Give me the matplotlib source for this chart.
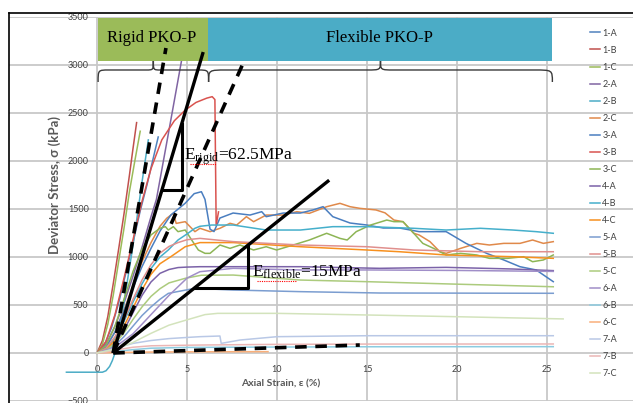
import matplotlib.pyplot as plt
from matplotlib.lines import Line2D
from matplotlib.patches import PathPatch, Rectangle
from matplotlib.path import Path

# ------------------------------------------------------------
# data (axial strain %, deviator stress kPa)
# ------------------------------------------------------------
strain_1A = [0, 0.4, 0.8, 1.2, 1.6, 2.0, 2.4, 2.8, 3.1, 3.4]
stress_1A = [0, 80, 260, 520, 830, 1150, 1480, 1770, 2010, 2250]

strain_1B = [0, 0.3, 0.6, 0.9, 1.2, 1.5, 1.8, 2.0, 2.2]
stress_1B = [0, 130, 380, 720, 1080, 1450, 1850, 2130, 2400]

strain_1C = [0, 0.3, 0.6, 0.9, 1.2, 1.5, 1.8, 2.1, 2.4]
stress_1C = [0, 90, 300, 600, 950, 1300, 1680, 2000, 2310]

strain_2A = [0, 0.5, 1.0, 1.5, 2.0, 2.5, 3.0, 3.3, 3.96, 4.7, 4.9]
stress_2A = [0, 90, 280, 520, 800, 1100, 1420, 1600, 2280, 3050, 3300]

strain_2B = [-1.7, 0.3, 0.5, 0.7, 0.85, 1.0, 1.3, 1.6, 1.9, 2.2, 2.5, 2.85]
stress_2B = [-200, -200, -185, -140, -80, 0, 300, 650, 1000, 1380, 1780, 2220]

strain_2C = [0, 0.5, 1.0, 1.5, 2.0, 2.5, 3.0, 3.5, 3.87, 4.24,
             4.4, 4.9, 5.44, 5.72, 6.28, 6.83, 7.39, 7.76, 8.3, 8.7,
             9.4, 10.35, 11.1, 11.8, 12.76, 13.5, 14.06, 14.6, 15.5, 16.0,
             16.5, 17.0, 17.6, 17.9, 18.5, 19.05, 19.4, 20.2, 21.1, 21.8,
             22.6, 23.5, 24.2, 24.8, 25.35]
stress_2C = [0, 60, 220, 450, 700, 950, 1150, 1320, 1403, 1455,
             1350, 1368, 1264, 1299, 1264, 1299, 1351, 1333, 1420, 1368,
             1437, 1437, 1472, 1455, 1524, 1559, 1524, 1507, 1490, 1460,
             1385, 1368, 1247, 1229, 1160, 1055, 1038, 1090, 1142, 1125,
             1142, 1142, 1177, 1142, 1160]

strain_3A = [0, 0.5, 1.0, 1.5, 2.0, 2.5, 3.0, 3.5, 4.1, 4.9,
             5.4, 5.8, 6.0, 6.28, 6.5, 6.83, 7.56, 8.5, 9.15, 9.4,
             10.35, 11.3, 12.0, 12.56, 13.1, 14.06, 15.0, 15.9, 16.8, 17.9,
             19.4, 20.5, 21.65, 22.6, 23.5, 24.4, 25.35]
stress_3A = [0, 60, 220, 440, 680, 900, 1090, 1270, 1437, 1560,
             1660, 1680, 1600, 1290, 1265, 1406, 1458, 1437, 1472, 1420,
             1458, 1458, 1490, 1524, 1420, 1354, 1333, 1302, 1302, 1264,
             1264, 1142, 1038, 969, 899, 865, 743]

strain_3B = [0, 0.5, 1.0, 1.5, 2.0, 2.5, 3.0, 3.6, 4.3, 4.9, 5.5, 6.1,
             6.4, 6.55, 6.62, 6.75]
stress_3B = [0, 120, 400, 780, 1180, 1580, 1920, 2220, 2420, 2530, 2610, 2655,
             2670, 2640, 1330, 1470]

strain_3C = [0, 0.5, 1.0, 1.5, 2.0, 2.5, 3.0, 3.5, 3.8, 3.96,
             4.24, 4.5, 4.9, 5.26, 5.63, 6.0, 6.28, 6.83, 7.39, 7.94,
             8.7, 9.4, 9.98, 10.9, 11.8, 12.76, 13.5, 13.9, 14.4, 15.2,
             16.1, 16.5, 17.0, 17.6, 18.1, 18.7, 19.4, 20.2, 21.1, 21.8,
             22.8, 23.7, 24.2, 24.8, 25.35]
stress_3C = [0, 80, 280, 560, 850, 1080, 1230, 1300, 1316, 1281,
             1316, 1264, 1281, 1177, 1073, 1038, 1038, 1125, 1090, 1125,
             1073, 1107, 1073, 1125, 1177, 1247, 1194, 1177, 1264, 1333,
             1385, 1368, 1368, 1247, 1142, 1090, 1021, 1038, 1021, 986,
             986, 1003, 951, 969, 1021]

strain_4A = [0, 0.5, 1, 1.5, 2, 2.5, 3, 3.5, 4, 4.5, 5, 5.72, 11.3, 15.7,
             19.4, 23.1, 25.35]
stress_4A = [0, 30, 110, 240, 420, 600, 740, 830, 870, 890, 895, 899, 899, 882,
             892, 875, 858]

strain_4B = [0, 0.5, 1.0, 1.5, 2.0, 2.5, 3.0, 3.5, 3.96, 4.5, 5.0, 5.44, 5.72,
             6.37, 7.57, 9.4, 11.3, 13.1, 15.0, 17.6, 19.4, 21.3, 23.1, 24.4,
             25.35]
stress_4B = [0, 40, 150, 330, 530, 720, 880, 1000, 1073, 1177, 1240, 1299, 1320,
             1333, 1333, 1281, 1281, 1316, 1316, 1299, 1281, 1299, 1281, 1264,
             1247]

strain_4C = [0, 0.5, 1, 1.5, 2, 2.5, 3, 3.5, 4.1, 4.9, 5.72, 7.57, 11.3, 15.0,
             16.8, 19.4, 23.1, 25.35]
stress_4C = [0, 40, 130, 280, 470, 660, 820, 930, 1003, 1107, 1150, 1150, 1107,
             1073, 1055, 1021, 1003, 986]

strain_5A = [0, 0.5, 1, 1.5, 2, 2.5, 3, 3.5, 3.96, 5.44, 7.57, 11.3, 15.7, 25.35]
stress_5A = [0, 25, 80, 170, 280, 390, 480, 560, 621, 674, 656, 639, 625, 622]

strain_5B = [0, 0.5, 1, 1.5, 2, 2.5, 3, 3.5, 4, 4.5, 5, 5.72, 7.57, 11.3, 15.0,
             17.6, 21.3, 25.35]
stress_5B = [0, 50, 170, 350, 560, 760, 920, 1040, 1110, 1150, 1180, 1194, 1160,
             1125, 1107, 1073, 1055, 1055]

strain_5C = [0, 0.5, 1, 1.5, 2, 2.5, 3, 3.5, 4, 4.9, 5.8, 7.57, 11.3, 15.0,
             19.4, 25.35]
stress_5C = [0, 30, 100, 210, 350, 480, 590, 670, 730, 778, 810, 812, 760, 743,
             720, 690]

strain_6A = [0, 1, 2, 3, 4, 5, 5.72, 7.57, 11.3, 15, 20, 25.35]
stress_6A = [0, 60, 200, 400, 600, 780, 847, 882, 865, 865, 860, 850]

strain_6B = [0, 1, 2, 3, 5, 10, 15, 25.35]
stress_6B = [0, 15, 35, 50, 58, 62, 65, 66]

strain_6C = [0, 1, 3, 5, 7, 9.5]
stress_6C = [0, 5, 10, 12, 13, 14]

strain_7A = [0, 0.5, 1, 2, 3, 4, 5, 5.72, 6.83, 6.9, 7.94, 10, 15, 25.35]
stress_7A = [0, 20, 50, 100, 130, 150, 162, 170, 177, 100, 135, 170, 180, 180]

strain_7B = [0, 0.5, 1, 2, 3, 5.7, 10, 15, 25.35]
stress_7B = [0, 10, 30, 60, 75, 83, 90, 93, 94]

strain_7C = [0, 1, 2, 3, 4, 4.9, 6, 6.7, 10, 15, 20, 25.9]
stress_7C = [0, 40, 110, 205, 290, 340, 400, 413, 413, 396, 378, 355]

series_labels = ["1-A", "1-B", "1-C", "2-A", "2-B", "2-C", "3-A", "3-B", "3-C",
                 "4-A", "4-B", "4-C", "5-A", "5-B", "5-C", "6-A", "6-B", "6-C",
                 "7-A", "7-B", "7-C"]
series_colors = ["#4F81BD", "#C0504D", "#9BBB59", "#8064A2", "#4BACC6", "#E0894A",
                 "#4A7EC0", "#D9534F", "#8DB555", "#7B62A8", "#45AFCB", "#F7901E",
                 "#7B9DD0", "#E08F8D", "#ACCB7D", "#A08EC8", "#8CCBE0", "#F9AF7A",
                 "#B9C8E6", "#EBB6B5", "#D3E3BC"]

# modulus guide lines drawn on the chart
rigid_x, rigid_y = [0.9, 5.9], [0, 3135]
rigid_hi_x, rigid_hi_y = [0.9, 3.83], [0, 3177]
rigid_lo_x, rigid_lo_y = [0.9, 8.2], [0, 3052]
flex_x, flex_y = [0.9, 12.9], [0, 1800]
flex_lo_x, flex_lo_y = [0.9, 14.6], [0, 83]
tri_rigid_x, tri_rigid_y = [3.62, 4.72, 4.72], [1698, 1698, 2388]
tri_flex_x, tri_flex_y = [5.41, 8.39, 8.39], [677, 677, 1124]

# ------------------------------------------------------------
plt.rcParams["font.family"] = ["Lato", "DejaVu Sans"]
plt.rcParams["mathtext.default"] = "regular"
SERIF = ["Liberation Serif", "DejaVu Serif"]

fig = plt.figure(figsize=(6.33, 4.03), dpi=100)
ax = fig.add_axes([9 / 633, 2 / 403, 624 / 633, 384 / 403])
ax.set_xlim(-4.89, 29.78)
ax.set_ylim(-500, 3500)

curves = [
    (strain_1A, stress_1A), (strain_1B, stress_1B), (strain_1C, stress_1C),
    (strain_2A, stress_2A), (strain_2B, stress_2B), (strain_2C, stress_2C),
    (strain_3A, stress_3A), (strain_3B, stress_3B), (strain_3C, stress_3C),
    (strain_4A, stress_4A), (strain_4B, stress_4B), (strain_4C, stress_4C),
    (strain_5A, stress_5A), (strain_5B, stress_5B), (strain_5C, stress_5C),
    (strain_6A, stress_6A), (strain_6B, stress_6B), (strain_6C, stress_6C),
    (strain_7A, stress_7A), (strain_7B, stress_7B), (strain_7C, stress_7C),
]
handles = []
for (xs, ys), lab, col in zip(curves, series_labels, series_colors):
    ln, = ax.plot(xs, ys, color=col, lw=1.1, label=lab, zorder=2,
                  solid_joinstyle="round")
    handles.append(ln)

# axes at zero, Excel style
ax.spines["left"].set_position(("data", 0))
ax.spines["bottom"].set_position(("data", 0))
for sp in ax.spines.values():
    sp.set_color("none")
ax.set_xticks(range(0, 30, 5))
ax.set_yticks(range(-500, 3501, 500))
ax.tick_params(length=0, labelsize=6.5, labelcolor="#404040")
ax.tick_params(axis="y", pad=6)
ax.tick_params(axis="x", pad=9)
ax.grid(True, color="#C8C8C8", lw=1.3)
ax.set_axisbelow(True)

ax.text(-2.33, 1750, "Deviator Stress, σ (kPa)", rotation=90, ha="center",
        va="center", fontsize=9.5, fontweight="bold", color="#595959")
ax.text(10.2, -323, "Axial Strain, ε (%)", ha="center", va="center",
        fontsize=7.5, fontweight="bold", color="#595959")

# group boxes
ax.add_patch(Rectangle((0.07, 3042), 6.1, 448, facecolor="#9BBB59",
                       edgecolor="none", zorder=5))
ax.add_patch(Rectangle((6.17, 3042), 19.09, 448, facecolor="#4BACC6",
                       edgecolor="none", zorder=5))
ax.text(3.06, 3281, "Rigid PKO-P", family=SERIF, fontsize=12, ha="center",
        va="center", zorder=6)
ax.text(15.7, 3281, "Flexible PKO-P", family=SERIF, fontsize=12, ha="center",
        va="center", zorder=6)


def brace(x0, x1, y0, ym, yt, re, rt):
    xm = (x0 + x1) / 2
    verts = [(x0, y0), (x0, ym), (x0, ym), (x0 + re, ym),
             (xm - rt, ym), (xm, ym), (xm, ym), (xm, yt),
             (xm, ym), (xm, ym), (xm + rt, ym),
             (x1 - re, ym), (x1, ym), (x1, ym), (x1, y0)]
    codes = [Path.MOVETO, Path.CURVE4, Path.CURVE4, Path.CURVE4,
             Path.LINETO, Path.CURVE4, Path.CURVE4, Path.CURVE4,
             Path.CURVE4, Path.CURVE4, Path.CURVE4,
             Path.LINETO, Path.CURVE4, Path.CURVE4, Path.CURVE4]
    return PathPatch(Path(verts, codes), facecolor="none", edgecolor="#3A3A3A",
                     lw=1.0, zorder=4)


ax.add_patch(brace(0.06, 6.2, 2823, 2948, 3045, 0.6, 0.4))
ax.add_patch(brace(6.2, 25.3, 2823, 2948, 3045, 1.0, 0.75))

# modulus lines
solid = dict(color="black", lw=2.4, zorder=7, solid_capstyle="butt")
dashed = dict(color="black", lw=2.6, zorder=7, ls=(0, (3.2, 2.4)))
ax.plot(rigid_x, rigid_y, **solid)
ax.plot(flex_x, flex_y, **solid)
ax.plot(rigid_hi_x, rigid_hi_y, **dashed)
ax.plot(rigid_lo_x, rigid_lo_y, **dashed)
ax.plot(flex_lo_x, flex_lo_y, **dashed)
ax.plot(tri_rigid_x, tri_rigid_y, color="black", lw=2.2, zorder=7)
ax.plot(tri_flex_x, tri_flex_y, color="black", lw=2.2, zorder=7)

ax.text(4.85, 2010, "E$_{rigid}$=62.5MPa", family=SERIF, fontsize=12.5,
        va="baseline", zorder=8)
ax.text(8.6, 795, "E$_{flexible}$=15MPa", family=SERIF, fontsize=12.5,
        va="baseline", zorder=8)
ax.plot([5.17, 6.61], [1969, 1969], color="red", lw=0.8, ls=(0, (1, 1)), zorder=8)
ax.plot([8.9, 11.1], [750, 750], color="red", lw=0.8, ls=(0, (1, 1)), zorder=8)

leg = ax.legend(handles, series_labels, loc="upper left",
                bbox_to_anchor=(590 / 633, 0.929), bbox_transform=fig.transFigure,
                frameon=False, fontsize=6.5, handlelength=1.1, handletextpad=0.25,
                labelspacing=0.89, borderpad=0, borderaxespad=0)
for t in leg.get_texts():
    t.set_color("#404040")

# chart area border (top and left edges visible in the screenshot)
fig.add_artist(Line2D([9 / 633, 1], [390 / 403, 390 / 403], color="black", lw=1.2))
fig.add_artist(Line2D([9 / 633, 9 / 633], [0, 390 / 403], color="black", lw=1.2))

fig.savefig("out.png", dpi=100)
